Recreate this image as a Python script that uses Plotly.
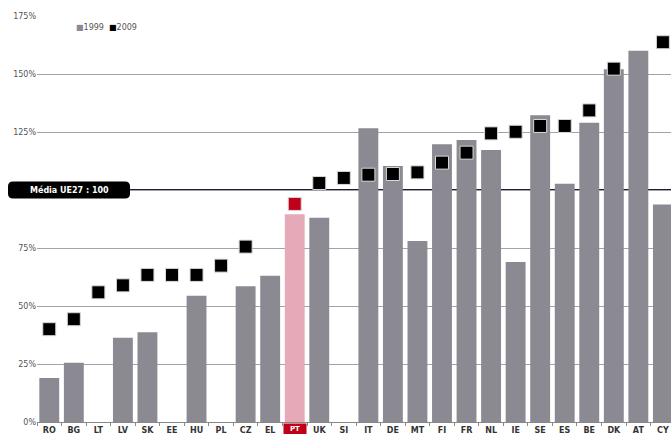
import plotly.graph_objects as go

countries = ["RO", "BG", "LT", "LV", "SK", "EE", "HU", "PL", "CZ", "EL", "PT", "UK", "SI",
             "IT", "DE", "MT", "FI", "FR", "NL", "IE", "SE", "ES", "BE", "DK", "AT", "CY"]
v1999 = [19, 25.5, None, 36.3, 38.7, None, 54.4, None, 58.5, 63, 89.6, 88, None,
         126.6, 110.3, 78, 119.7, 121.6, 117.2, 69, 132.2, 102.7, 129, 152, 160, 93.8]
v2009 = [40, 44.3, 55.9, 58.9, 63.4, 63.4, 63.4, 67.4, 75.6, None, 94, 103, 105.2,
         106.6, 106.9, 107.6, 111.8, 116.1, 124.4, 125.1, 127.6, 127.6, 134.3, 152.3, None, 163.7]
ytick_vals = [0, 25, 50, 75, 100, 125, 150, 175]
ytick_text = ["0%", "25%", "50%", "75%", "", "125%", "150%", "175%"]
highlight = "PT"
avg_value = 100
avg_label = "Média UE27 : 100"

bar_colors = ["#e6a9b8" if c == highlight else "#8b8991" for c in countries]
mk_colors = ["#c00018" if c == highlight else "#000000" for c in countries]

fig = go.Figure()
fig.add_trace(go.Bar(x=countries, y=v1999, name="1999", marker=dict(color=bar_colors, line=dict(width=0)),
                     showlegend=False))
fig.add_trace(go.Scatter(x=countries, y=v2009, mode="markers", name="2009",
                         marker=dict(symbol="square", size=13, color=mk_colors,
                                     line=dict(color="#d8d8d8", width=1)), showlegend=False))

# average line
fig.add_shape(type="line", xref="paper", yref="y", x0=0, x1=1, y0=avg_value, y1=avg_value,
              line=dict(color="#1a2030", width=2), layer="below")

# rounded label box for average
pw = 634.0
ppu = 406.0 / 175.0
x0p, x1p = (8 - 37) / pw, (130 - 37) / pw
y0d, y1d = avg_value - 8.5 / ppu, avg_value + 8.5 / ppu
rx, ry = 5 / pw, 5 / ppu
path = (f"M {x0p+rx},{y0d} L {x1p-rx},{y0d} Q {x1p},{y0d} {x1p},{y0d+ry} "
        f"L {x1p},{y1d-ry} Q {x1p},{y1d} {x1p-rx},{y1d} L {x0p+rx},{y1d} "
        f"Q {x0p},{y1d} {x0p},{y1d-ry} L {x0p},{y0d+ry} Q {x0p},{y0d} {x0p+rx},{y0d} Z")
fig.add_shape(type="path", xref="paper", yref="y", path=path, fillcolor="#000000",
              line=dict(width=0))
fig.add_annotation(xref="paper", yref="y", x=(x0p + x1p) / 2, y=avg_value, xanchor="center", yanchor="middle",
                   text="<b>" + avg_label + "</b>",
                   showarrow=False, font=dict(family="DejaVu Sans", size=8, color="white"))

# legend text
fig.add_annotation(xref="paper", yref="paper", x=(74 - 37) / pw, y=(422 - 28) / 406.0, xanchor="left",
                   yanchor="middle",
                   text="<span style='color:#8b8991'>■</span>1999  <span style='color:#000'>■</span>2009",
                   showarrow=False, font=dict(family="DejaVu Sans", size=8, color="#555555"))

# highlighted x label
fig.add_annotation(x=highlight, y=0, yref="y", yshift=-1, yanchor="top", text="<b>" + highlight + "</b>",
                   showarrow=False,
                   bgcolor="#c00018", font=dict(family="DejaVu Sans", size=7, color="white"),
                   borderpad=1, width=20)

ticktext = ["" if c == highlight else "<b>" + c + "</b>" for c in countries]

fig.update_layout(
    width=671, height=434,
    margin=dict(l=37, r=0, t=16, b=12),
    plot_bgcolor="white", paper_bgcolor="white",
    bargap=0.19,
    xaxis=dict(range=[-0.5, 25.33], tickvals=countries, ticktext=ticktext, showgrid=False,
               showline=True, linecolor="#888888", linewidth=1,
               ticks="outside", ticklen=3, tickcolor="#888888", tickson="boundaries",
               tickfont=dict(family="DejaVu Sans", size=8, color="#333333"), automargin=False),
    yaxis=dict(range=[0, 175], tickvals=ytick_vals, ticktext=ytick_text, showgrid=True,
               gridcolor="#a2a2aa", gridwidth=1, zeroline=False, ticks="",
               tickfont=dict(family="DejaVu Sans", size=8, color="#555555"), automargin=False),
)

fig.write_html("out.html")
